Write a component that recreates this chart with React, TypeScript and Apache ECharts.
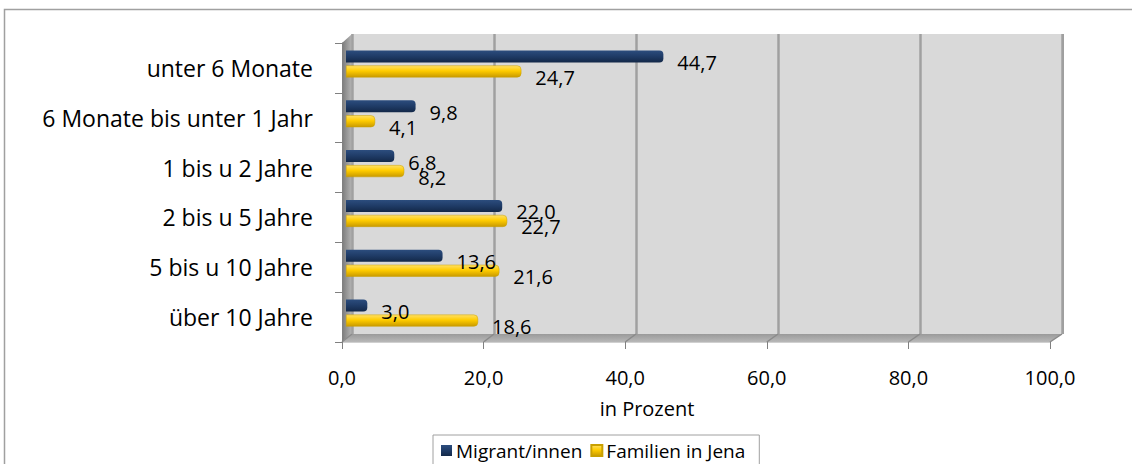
import React, { useEffect, useRef } from "react";
import * as echarts from "echarts";

const categories = [
  "unter 6 Monate",
  "6 Monate bis unter 1 Jahr",
  "1 bis u 2 Jahre",
  "2 bis u 5 Jahre",
  "5 bis u 10 Jahre",
  "über 10 Jahre",
];
const migranten = [44.7, 9.8, 6.8, 22.0, 13.6, 3.0];
const familien = [24.7, 4.1, 8.2, 22.7, 21.6, 18.6];
const seriesNames = ["Migrant/innen", "Familien in Jena"];
const xTicks = [0, 20, 40, 60, 80, 100];

const FONT = "'Open Sans', Lato, sans-serif";
const fmt = (v: number) => v.toFixed(1).replace(".", ",");

export default function App() {
  const ref = useRef<HTMLDivElement>(null);
  useEffect(() => {
    if (!ref.current) return;
    const chart = echarts.init(ref.current, undefined, { renderer: "svg" });
    const blue = new echarts.graphic.LinearGradient(0, 0, 0, 1, [
      { offset: 0, color: "#2c4d7e" },
      { offset: 0.5, color: "#1f3b66" },
      { offset: 1, color: "#132848" },
    ]);
    const yellow = new echarts.graphic.LinearGradient(0, 0, 0, 1, [
      { offset: 0, color: "#ffe066" },
      { offset: 0.45, color: "#ffcc00" },
      { offset: 1, color: "#c99a00" },
    ]);
    const label = {
      show: true,
      position: "right" as const,
      distance: 14,
      offset: [0, 6],
      fontSize: 20,
      fontFamily: FONT,
      color: "#000",
      formatter: (p: any) => fmt(p.value),
    };
    chart.setOption({
      animation: false,
      textStyle: { fontFamily: FONT },
      grid: [
        { left: 352, top: 34, width: 710, height: 300, show: true, backgroundColor: "#d9d9d9", borderWidth: 0 },
        { left: 346, top: 39, width: 710, height: 299, show: false },
        { left: 342, top: 43, width: 708, height: 299, show: false },
      ],
      xAxis: [
        {
          gridIndex: 0, type: "value", min: 0, max: 100, interval: 20,
          axisLabel: { show: false }, axisLine: { show: false }, axisTick: { show: false },
          splitLine: { show: true, lineStyle: { color: "#a0a0a0", width: 2.5 } },
        },
        {
          gridIndex: 1, type: "value", min: 0, max: 100, interval: 20, show: false,
        },
        {
          gridIndex: 2, type: "value", min: 0, max: 100, interval: 20,
          axisLine: { show: true, lineStyle: { color: "#d0d0d0", width: 1 } },
          axisTick: { show: true, length: 7, lineStyle: { color: "#808080" } },
          splitLine: { show: false },
          axisLabel: { fontSize: 20, color: "#000", margin: 25, formatter: (v: number) => fmt(v), fontFamily: FONT },
          name: "in Prozent",
          nameLocation: "middle",
          nameGap: 56,
          nameTextStyle: { fontSize: 20, color: "#000", fontFamily: FONT, padding: [0, 98, 0, 0] },
        },
      ],
      yAxis: [
        { gridIndex: 0, type: "category", data: categories, inverse: true, show: false },
        { gridIndex: 1, type: "category", data: categories, inverse: true, show: false },
        {
          gridIndex: 2, type: "category", data: categories, inverse: true,
          axisLine: { show: true, lineStyle: { color: "#808080", width: 1 } },
          axisTick: { show: true, length: 7, lineStyle: { color: "#808080" } },
          axisLabel: { fontSize: 23, color: "#000", margin: 29, fontFamily: FONT },
          splitLine: { show: false },
        },
      ],
      legend: {
        data: seriesNames,
        left: 433,
        top: 435,
        orient: "horizontal",
        borderColor: "#a0a0a0",
        borderWidth: 1,
        borderRadius: 0,
        padding: [6, 14, 10, 8],
        itemWidth: 11,
        itemHeight: 11,
        itemGap: 8,
        icon: "rect",
        textStyle: { fontSize: 19, color: "#000", fontFamily: FONT, padding: [0, 0, 0, -1] },
      },
      graphic: [
        {
          id: "frame", type: "rect", silent: true, z: -10,
          shape: { x: 4.5, y: 9.5, width: 1140, height: 470 },
          style: { fill: "#fff", stroke: "#a0a0a0", lineWidth: 1.5 },
        },
        {
          id: "leftwall", type: "polygon", silent: true, z: -1,
          shape: { points: [[342, 43], [352, 34], [352, 334], [342, 342]] },
          style: {
            fill: new echarts.graphic.LinearGradient(0, 0, 1, 0, [
              { offset: 0, color: "#7a7a7a" },
              { offset: 1, color: "#b5b5b5" },
            ]),
          },
        },
        {
          id: "floor", type: "polygon", silent: true, z: -1,
          shape: { points: [[342, 342], [352, 334], [1062, 334], [1050, 342]] },
          style: {
            fill: new echarts.graphic.LinearGradient(0, 0, 0, 1, [
              { offset: 0, color: "#9a9a9a" },
              { offset: 1, color: "#b8b8b8" },
            ]),
          },
        },
        {
          id: "rightedge", type: "line", silent: true, z: -1,
          shape: { x1: 1062.5, y1: 34, x2: 1062.5, y2: 334 },
          style: { stroke: "#9a9a9a", lineWidth: 3 },
        },
      ],
      series: [
        {
          name: seriesNames[0], type: "bar", xAxisIndex: 1, yAxisIndex: 1,
          data: migranten, barWidth: 12, barGap: "25%",
          itemStyle: { color: blue, borderRadius: [0, 4, 4, 0] },
          label,
        },
        {
          name: seriesNames[1], type: "bar", xAxisIndex: 1, yAxisIndex: 1,
          data: familien, barWidth: 12, barGap: "25%",
          itemStyle: { color: yellow, borderRadius: [0, 4, 4, 0], borderColor: "#c9a000", borderWidth: 0.5 },
          label,
        },
      ],
    });
    const extra: any[] = [];
    xTicks.forEach((t, i) => {
      const back = chart.convertToPixel({ xAxisIndex: 0 }, t) as number;
      const front = chart.convertToPixel({ xAxisIndex: 2 }, t) as number;
      extra.push({
        id: "floorline" + i, type: "line", silent: true, z: 0,
        shape: { x1: back, y1: 334, x2: front, y2: 342 },
        style: { stroke: "#8a8a8a", lineWidth: 1.5 },
      });
    });
    chart.setOption({ graphic: extra });
    return () => chart.dispose();
  }, []);
  return (
    <div
      ref={ref}
      style={{ position: "fixed", left: 0, top: 0, width: 1132, height: 464, background: "#fff" }}
    />
  );
}
